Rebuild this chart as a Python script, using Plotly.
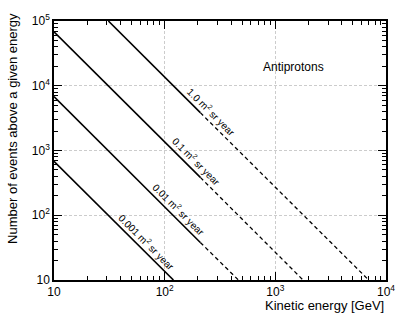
import math
import plotly.graph_objects as go

# Data (energy in GeV, number of events)
labels = ["1.0 m<sup>2</sup> sr year", "0.1 m<sup>2</sup> sr year",
          "0.01 m<sup>2</sup> sr year", "0.001 m<sup>2</sup> sr year"]
solid_energy_start = [31, 10, 10, 10]
solid_count_start = [1.0e5, 6.8e4, 6.8e3, 680]
solid_energy_end = [210, 210, 210, 120]
solid_count_end = [3840, 384, 38, 10]
dash_energy_end = [6970, 1780, 464, None]
dash_count_end = [10, 10, 10, None]
label_energy = [235, 170, 118, 61]

x_tickvals = [10, 100, 1000, 10000]
x_ticktext = ["10", "10<sup>2</sup>", "10<sup>3</sup>", "10<sup>4</sup>"]
y_tickvals = [10, 100, 1000, 10000, 100000]
y_ticktext = ["10", "10<sup>2</sup>", "10<sup>3</sup>", "10<sup>4</sup>", "10<sup>5</sup>"]

FONT = "Liberation Sans, Arial, Helvetica"

fig = go.Figure()
for i in range(len(labels)):
    fig.add_trace(go.Scatter(
        x=[solid_energy_start[i], solid_energy_end[i]],
        y=[solid_count_start[i], solid_count_end[i]],
        mode="lines", line=dict(color="black", width=1.6),
        showlegend=False, hoverinfo="skip"))
    if dash_energy_end[i] is not None:
        fig.add_trace(go.Scatter(
            x=[solid_energy_end[i], dash_energy_end[i]],
            y=[solid_count_end[i], dash_count_end[i]],
            mode="lines", line=dict(color="black", width=1.3, dash="4px,3px"),
            showlegend=False, hoverinfo="skip"))

# labels along lines (position on the drawn straight segment in log space)
for i in range(len(labels)):
    x0, y0 = math.log10(solid_energy_start[i]), math.log10(solid_count_start[i])
    x1, y1 = math.log10(solid_energy_end[i]), math.log10(solid_count_end[i])
    lx = math.log10(label_energy[i])
    ly = y0 + (y1 - y0) * (lx - x0) / (x1 - x0)
    fig.add_annotation(x=lx, y=ly, xref="x", yref="y", text=labels[i],
                       textangle=45, showarrow=False, xshift=6, yshift=6,
                       font=dict(family=FONT, size=10, color="black"))

fig.add_annotation(x=0.818, y=0.858, xref="paper", yref="paper", text="Antiprotons",
                   showarrow=False, font=dict(family=FONT, size=12, color="black"))
fig.add_annotation(x=1.0, y=-0.062, xref="paper", yref="paper", text="Kinetic energy [GeV]",
                   showarrow=False, xanchor="right", yanchor="top",
                   font=dict(family=FONT, size=13, color="black"))
fig.add_annotation(x=-0.152, y=1.037, xref="paper", yref="paper",
                   text="Number of events above a given energy", textangle=-90,
                   showarrow=False, xanchor="left", yanchor="top",
                   font=dict(family=FONT, size=13, color="black"))

axis_common = dict(
    type="log", showline=True, linecolor="black", linewidth=1.5, mirror="ticks",
    ticks="inside", ticklen=8, tickwidth=1, tickcolor="black",
    showgrid=True, gridcolor="#cccccc", griddash="3px,2px", gridwidth=1,
    zeroline=False, ticklabeloverflow="allow",
    tickfont=dict(family=FONT, size=12, color="black"),
    minor=dict(ticks="inside", ticklen=4, tickcolor="black", tickwidth=1,
               dtick="D1", showgrid=False),
)
fig.update_xaxes(range=[1, 4], tickvals=x_tickvals, ticktext=x_ticktext, **axis_common)
fig.update_yaxes(range=[1, 5], tickvals=y_tickvals, ticktext=y_ticktext, **axis_common)

fig.update_layout(
    width=407, height=319,
    margin=dict(l=54, r=18, t=13, b=39),
    plot_bgcolor="white", paper_bgcolor="white",
    font=dict(family=FONT, color="black"),
)
# remove the default page body margin so the figure fills the window exactly
fig.write_html("out.html", config={"displayModeBar": False},
               post_script="document.body.style.margin='0px';")
